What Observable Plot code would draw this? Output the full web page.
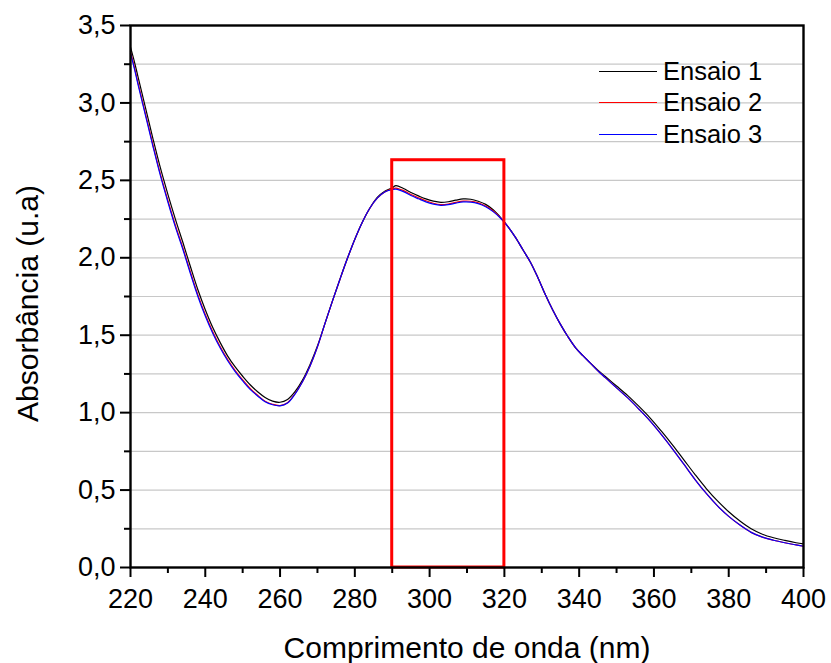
<!DOCTYPE html>
<html>
<head>
<meta charset="utf-8">
<script src="https://cdn.jsdelivr.net/npm/d3@7"></script>
<script src="https://cdn.jsdelivr.net/npm/@observablehq/plot@0.6"></script>
<style>
  html, body { margin: 0; padding: 0; background: #fff; }
  #wrap { position: relative; width: 831px; height: 663px; font-family: "Liberation Sans", Arial, sans-serif; }
  #legend { position: absolute; left: 599px; top: 56px; font-size: 25.5px; color: #000; }
  .item { display: flex; align-items: center; height: 31.3px; }
  .item span.sw { display: inline-block; width: 58px; height: 0; border-top: 1.2px solid; margin-right: 6px; }
</style>
</head>
<body>
<div id="wrap"></div>
<script>
const wavelength = [220,221,222,224,226,228,230,232,234,236,238,240,242,244,246,248,250,252,254,256,258,260,262,264,266,268,270,272,274,276,278,280,282,284,286,288,290,291,293,295,297,299,301,303,305,307,309,311,313,315,317,319,321,323,325,327,329,331,333,335,337,339,341,343,345,347,350,353,356,359,362,365,368,371,374,377,380,383,386,389,392,395,398,400];
const ensaio1 = [3.36,3.27,3.17,2.97,2.77,2.58,2.41,2.25,2.10,1.945,1.795,1.665,1.55,1.452,1.365,1.295,1.235,1.18,1.135,1.098,1.074,1.067,1.085,1.135,1.21,1.31,1.43,1.575,1.72,1.86,1.995,2.12,2.23,2.32,2.39,2.43,2.452,2.466,2.447,2.422,2.40,2.38,2.366,2.358,2.362,2.372,2.38,2.378,2.365,2.345,2.31,2.26,2.20,2.13,2.05,1.97,1.87,1.76,1.66,1.57,1.49,1.42,1.368,1.32,1.274,1.233,1.172,1.11,1.04,0.965,0.88,0.79,0.695,0.60,0.51,0.43,0.36,0.30,0.25,0.215,0.192,0.175,0.16,0.152];
const ensaio2 = [3.33,3.235,3.13,2.93,2.73,2.54,2.37,2.21,2.065,1.91,1.762,1.634,1.523,1.426,1.343,1.272,1.212,1.157,1.112,1.074,1.054,1.046,1.064,1.122,1.20,1.30,1.425,1.575,1.72,1.86,1.995,2.12,2.23,2.32,2.385,2.425,2.446,2.45,2.434,2.409,2.388,2.368,2.352,2.343,2.347,2.358,2.366,2.365,2.355,2.334,2.302,2.257,2.20,2.13,2.05,1.97,1.87,1.76,1.66,1.57,1.49,1.42,1.368,1.32,1.27,1.226,1.16,1.095,1.022,0.945,0.858,0.765,0.667,0.568,0.478,0.398,0.33,0.274,0.227,0.196,0.176,0.16,0.146,0.137];
const ensaio3 = [3.32,3.225,3.12,2.92,2.72,2.53,2.36,2.20,2.055,1.90,1.752,1.624,1.513,1.417,1.335,1.265,1.205,1.15,1.108,1.07,1.051,1.044,1.062,1.12,1.20,1.30,1.425,1.575,1.72,1.86,1.995,2.12,2.23,2.32,2.385,2.425,2.44,2.443,2.427,2.402,2.381,2.361,2.347,2.339,2.343,2.353,2.361,2.36,2.35,2.33,2.298,2.255,2.20,2.13,2.05,1.97,1.87,1.76,1.66,1.57,1.49,1.42,1.368,1.32,1.27,1.226,1.16,1.095,1.022,0.945,0.858,0.765,0.667,0.568,0.478,0.398,0.33,0.274,0.227,0.196,0.176,0.16,0.146,0.137];

const seriesNames = ["Ensaio 1", "Ensaio 2", "Ensaio 3"];
const seriesColors = ["#000000", "#ff0000", "#0000ff"];
const xTicks = [220,240,260,280,300,320,340,360,380,400];
const xMinorTicks = [230,250,270,290,310,330,350,370,390];
const yTicks = [0,0.5,1,1.5,2,2.5,3,3.5];
const yMinorTicks = [0.25,0.75,1.25,1.75,2.25,2.75,3.25];
const yGrid = [0.25,0.5,0.75,1,1.25,1.5,1.75,2,2.25,2.5,2.75,3,3.25];
const highlight = [{x1: 290, x2: 320, y1: 0, y2: 2.63}];
const xTitle = "Comprimento de onda (nm)";
const yTitle = "Absorbância (u.a)";

const allSeries = [ensaio1, ensaio2, ensaio3];
const data = allSeries.flatMap((vals, s) => vals.map((v, i) => ({x: wavelength[i], y: v, s: seriesNames[s]})));
const fmt = d => d.toFixed(1).replace(".", ",");

const lineMarks = seriesNames.map((name, s) =>
  Plot.line(data.filter(d => d.s === name), {x: "x", y: "y", stroke: seriesColors[s], strokeWidth: 1.2, curve: "catmull-rom"})
);

const chart = Plot.plot({
  width: 831,
  height: 663,
  marginLeft: 130,
  marginRight: 28,
  marginTop: 25,
  marginBottom: 96,
  style: {fontFamily: "'Liberation Sans', Arial, sans-serif", fontSize: "27px", color: "#000", background: "#fff"},
  x: {domain: [220, 400]},
  y: {domain: [0, 3.5]},
  marks: [
    Plot.ruleY(yGrid, {stroke: "#c8c8c8", strokeWidth: 1.2}),
    ...lineMarks,
    Plot.rect(highlight, {x1: "x1", x2: "x2", y1: "y1", y2: "y2", fill: "none", stroke: "#ff0000", strokeWidth: 3}),
    Plot.frame({stroke: "#000", strokeWidth: 2.4}),
    Plot.axisX({ticks: xTicks, tickSize: 10, tickPadding: 11, strokeWidth: 2, tickFormat: d => String(d), label: null, fontSize: 27}),
    Plot.axisX({ticks: xMinorTicks, tickSize: 6, strokeWidth: 2, tickFormat: () => "", label: null}),
    Plot.axisY({ticks: yTicks, tickSize: 10, tickPadding: 5, strokeWidth: 2, tickFormat: fmt, label: null, fontSize: 27}),
    Plot.axisY({ticks: yMinorTicks, tickSize: 6, strokeWidth: 2, tickFormat: () => "", label: null}),
    Plot.text([xTitle], {frameAnchor: "bottom", dy: 90, lineAnchor: "bottom", textAnchor: "middle", fontSize: 30, text: d => d}),
    Plot.text([yTitle], {frameAnchor: "left", dx: -102, dy: 7, rotate: -90, textAnchor: "middle", lineAnchor: "middle", fontSize: 30, text: d => d})
  ]
});

const wrap = document.getElementById("wrap");
wrap.appendChild(chart);

const legend = document.createElement("div");
legend.id = "legend";
seriesNames.forEach((name, s) => {
  const item = document.createElement("div");
  item.className = "item";
  const sw = document.createElement("span");
  sw.className = "sw";
  sw.style.borderTopColor = seriesColors[s];
  const label = document.createElement("span");
  label.textContent = name;
  item.appendChild(sw);
  item.appendChild(label);
  legend.appendChild(item);
});
wrap.appendChild(legend);
</script>
</body>
</html>
